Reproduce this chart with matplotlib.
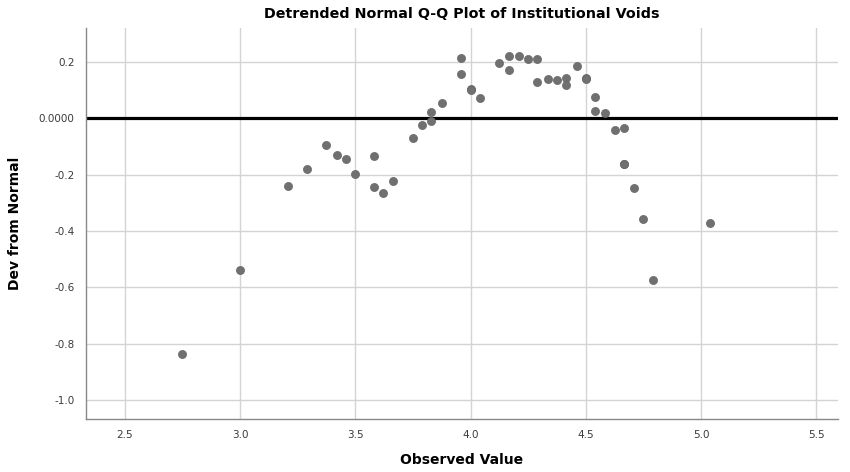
import matplotlib.pyplot as plt

observed = [2.75, 3.00, 3.21, 3.29, 3.375, 3.42, 3.46, 3.50, 3.58, 3.58, 3.62, 3.665,
            3.75, 3.79, 3.83, 3.83, 3.875, 3.96, 3.96, 4.00, 4.00, 4.04,
            4.125, 4.165, 4.165, 4.21, 4.25, 4.29, 4.29, 4.335, 4.375, 4.415, 4.415,
            4.46, 4.50, 4.50, 4.54, 4.54, 4.585, 4.625, 4.665, 4.665, 4.665,
            4.71, 4.75, 4.79, 5.04]
deviation = [-0.835, -0.54, -0.241, -0.181, -0.096, -0.131, -0.145, -0.199, -0.135, -0.245, -0.266, -0.223,
             -0.069, -0.026, -0.010, 0.021, 0.054, 0.213, 0.156, 0.102, 0.100, 0.070,
             0.197, 0.220, 0.171, 0.220, 0.208, 0.209, 0.128, 0.138, 0.135, 0.143, 0.117,
             0.184, 0.143, 0.140, 0.074, 0.026, 0.019, -0.043, -0.035, -0.161, -0.163,
             -0.249, -0.357, -0.574, -0.372]

x_ticks = [2.5, 3.0, 3.5, 4.0, 4.5, 5.0, 5.5]
y_ticks = [0.2, 0.0, -0.2, -0.4, -0.6, -0.8, -1.0]
y_labels = ['0.2', '0.0000', '-0.2', '-0.4', '-0.6', '-0.8', '-1.0']

plt.rcParams['font.family'] = ['DejaVu Sans']

fig = plt.figure(figsize=(8.5, 4.72), dpi=100)
ax = fig.add_axes([0.101, 0.112, 0.885, 0.829])

ax.scatter(observed, deviation, s=34, color='#707070', edgecolors='#666666',
           linewidths=0.5, zorder=3)
ax.axhline(0, color='black', linewidth=2.3, zorder=2)

ax.set_xlim(2.331, 5.595)
ax.set_ylim(-1.067, 0.32)
ax.set_xticks(x_ticks)
ax.set_xticklabels([f'{t:.1f}' for t in x_ticks])
ax.set_yticks(y_ticks)
ax.set_yticklabels(y_labels)
ax.grid(True, color='#d4d4d4', linewidth=1.0, zorder=0)
ax.set_axisbelow(True)
ax.tick_params(length=0, labelsize=7.5, labelcolor='#3a3a3a', pad=8)

for side in ['top', 'right']:
    ax.spines[side].set_visible(False)
for side in ['left', 'bottom']:
    ax.spines[side].set_color('#888888')
    ax.spines[side].set_linewidth(1.0)

ax.set_title('Detrended Normal Q-Q Plot of Institutional Voids',
             fontsize=10.3, fontweight='bold', pad=7)
ax.set_xlabel('Observed Value', fontsize=10, fontweight='bold', labelpad=9)
ax.set_ylabel('Dev from Normal', fontsize=10, fontweight='bold', labelpad=12)

fig.savefig('out.png', dpi=100)
